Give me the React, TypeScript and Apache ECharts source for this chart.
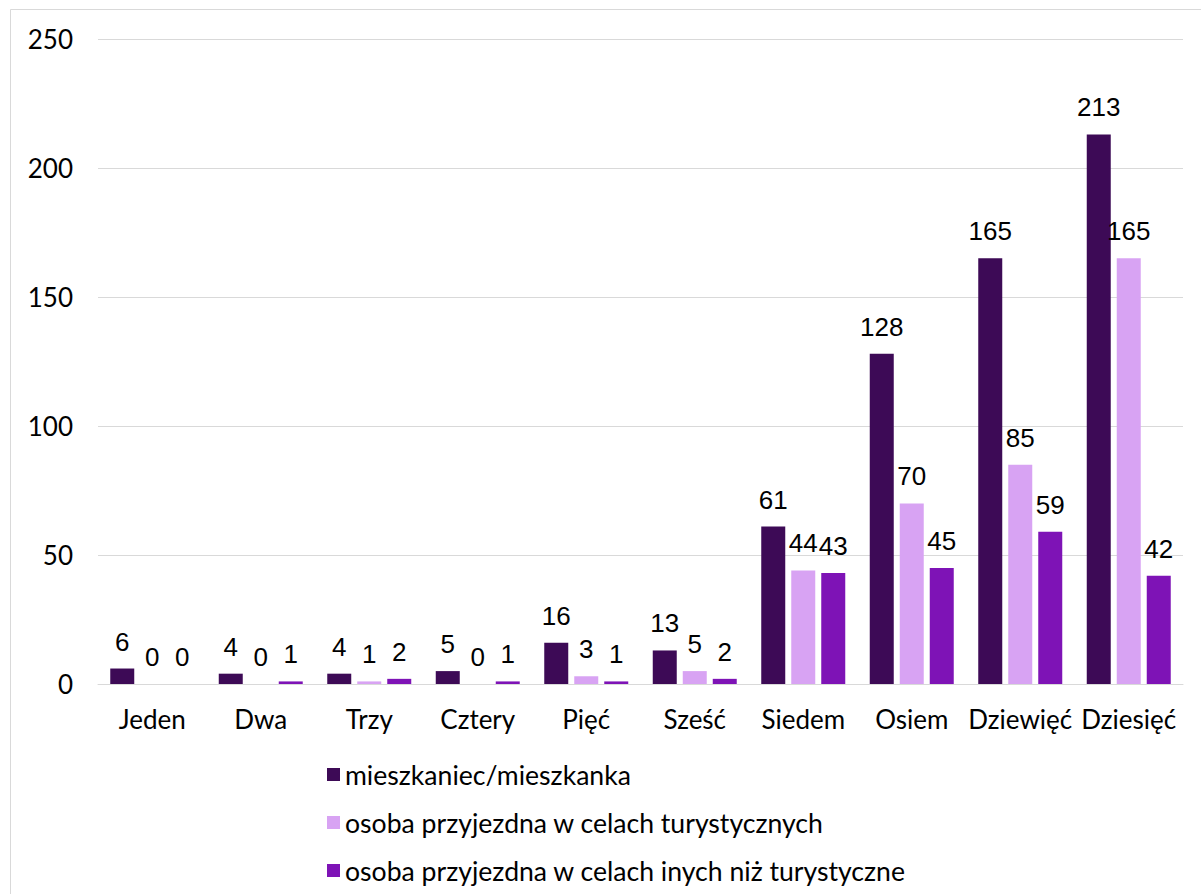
import React, { useEffect, useRef } from "react";
import * as echarts from "echarts";

const categories = ["Jeden", "Dwa", "Trzy", "Cztery", "Pięć", "Sześć", "Siedem", "Osiem", "Dziewięć", "Dziesięć"];
const seriesNames = [
  "mieszkaniec/mieszkanka",
  "osoba przyjezdna w celach turystycznych",
  "osoba przyjezdna w celach inych niż turystyczne",
];
const residents = [6, 4, 4, 5, 16, 13, 61, 128, 165, 213];
const tourists = [0, 0, 1, 0, 3, 5, 44, 70, 85, 165];
const otherVisitors = [0, 1, 2, 1, 1, 2, 43, 45, 59, 42];
const colors = ["#3D0A56", "#D8A3F3", "#7E13B6"];

const FONT = "Lato, 'Noto Sans', sans-serif";
const LABEL_FONT = "'Liberation Sans', Arial, sans-serif";

export default function App() {
  const ref = useRef<HTMLDivElement>(null);
  useEffect(() => {
    if (!ref.current) return;
    const chart = echarts.init(ref.current, undefined, { renderer: "svg" });
    const values = [residents, tourists, otherVisitors];
    chart.setOption({
      animation: false,
      backgroundColor: "#ffffff",
      textStyle: { fontFamily: FONT },
      grid: { left: 98, right: 18, top: 39, bottom: 210, containLabel: false },
      legend: {
        orient: "vertical",
        left: 322,
        top: 756,
        itemWidth: 13,
        itemHeight: 13,
        itemGap: 21,
        icon: "rect",
        textStyle: { fontSize: 26.6, color: "#000", fontFamily: FONT },
        data: seriesNames,
      },
      xAxis: {
        type: "category",
        data: categories,
        axisLine: { lineStyle: { color: "#d9d9d9", width: 1 } },
        axisTick: { show: false },
        axisLabel: { fontSize: 26, color: "#000", margin: 22, fontFamily: FONT, interval: 0 },
      },
      yAxis: {
        type: "value",
        min: 0,
        max: 250,
        interval: 50,
        axisLine: { show: false },
        axisTick: { show: false },
        splitLine: { lineStyle: { color: "#d9d9d9", width: 1 } },
        axisLabel: { fontSize: 26, color: "#000", margin: 25, fontFamily: FONT },
      },
      graphic: [
        {
          type: "rect",
          shape: { x: 10.5, y: 9.5, width: 1400, height: 1000 },
          style: { fill: "none", stroke: "#d9d9d9", lineWidth: 1 },
          silent: true,
        },
      ],
      series: seriesNames.map((name, i) => ({
        name,
        type: "bar",
        data: values[i],
        barWidth: 24,
        barGap: "25%",
        itemStyle: { color: colors[i] },
        label: {
          show: true,
          position: "top",
          distance: 14,
          fontSize: 26,
          color: "#000",
          fontFamily: LABEL_FONT,
        },
      })),
    });
    return () => chart.dispose();
  }, []);
  return (
    <div
      ref={ref}
      style={{ position: "fixed", left: 0, top: 0, width: 1201, height: 894 }}
    />
  );
}
